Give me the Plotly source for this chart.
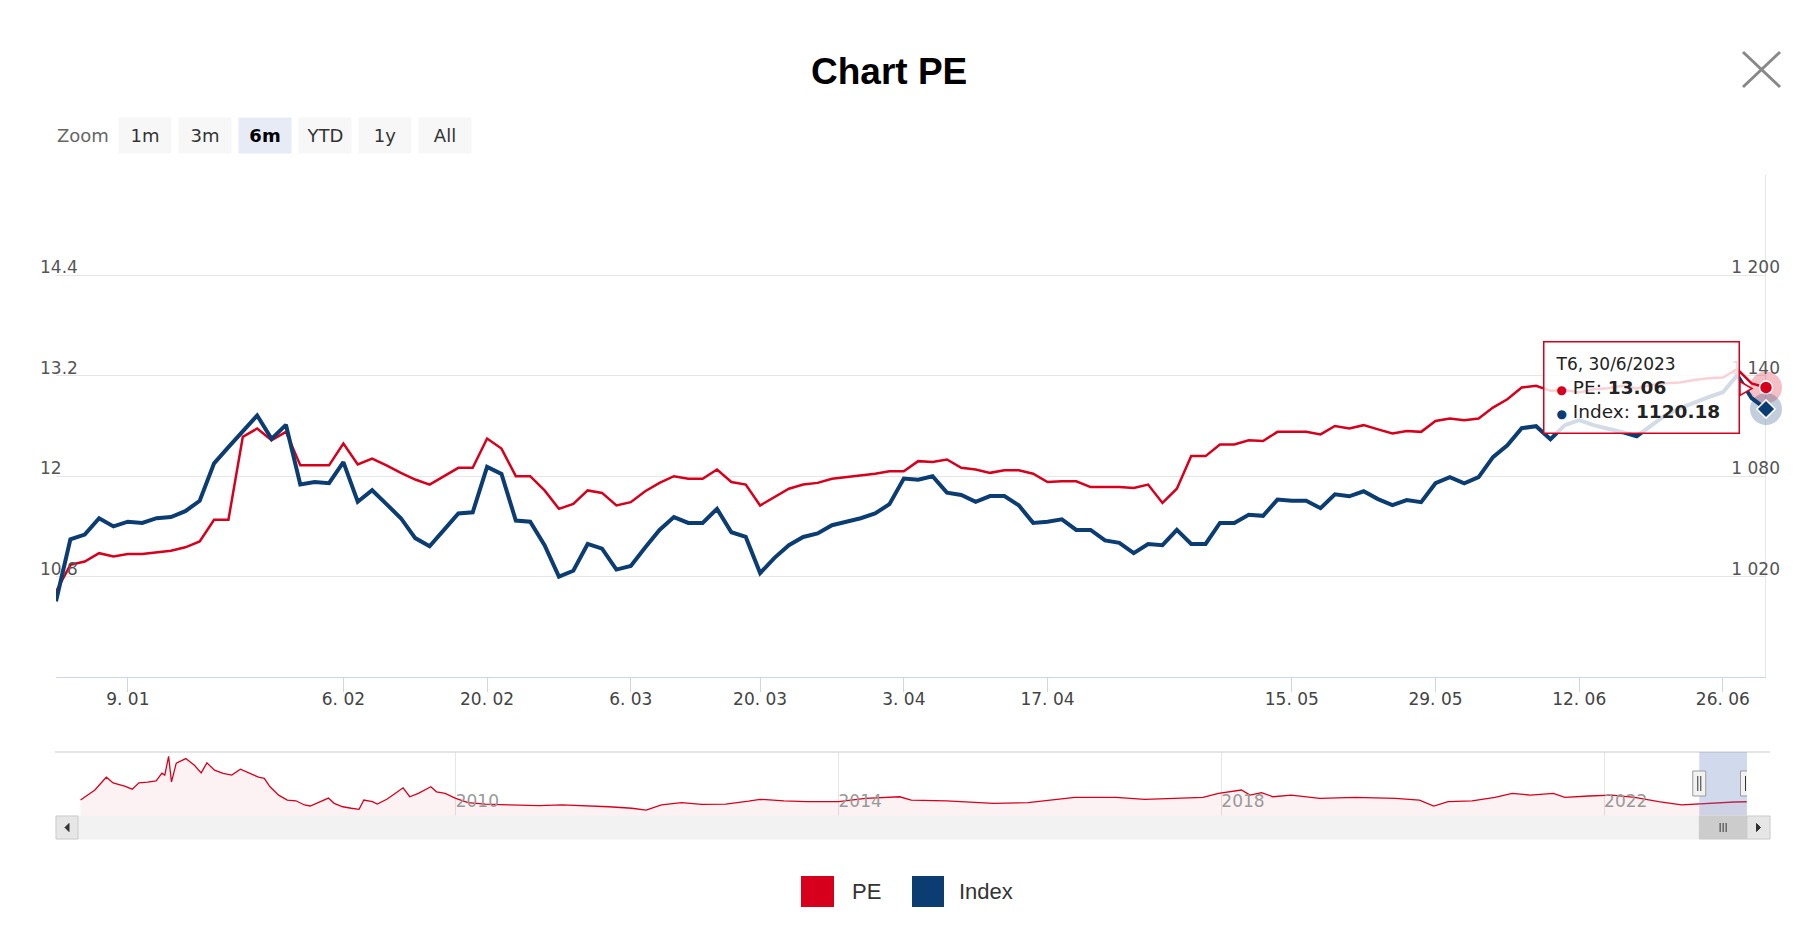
import plotly.graph_objects as go
import pandas as pd

# ---------------- data ----------------
closed_days = ['2023-01-02', '2023-01-20', '2023-01-23', '2023-01-24', '2023-01-25',
               '2023-01-26', '2023-03-13', '2023-05-01', '2023-05-02', '2023-05-03',
               '2023-06-28']
dates = [d for d in pd.bdate_range('2022-12-30', '2023-06-30')
         if d.strftime('%Y-%m-%d') not in closed_days]
date_strs = [d.strftime('%Y-%m-%d') for d in dates]

pe = [10.62, 10.94, 10.98, 11.08, 11.04, 11.07, 11.07, 11.09, 11.11, 11.15,
      11.22, 11.48, 11.48, 12.47, 12.57, 12.43, 12.53, 12.13, 12.13, 12.13,
      12.39, 12.14, 12.21, 12.13, 12.04, 11.96, 11.90, 12.00, 12.10, 12.10,
      12.45, 12.33, 12.00, 12.00, 11.83, 11.61, 11.67, 11.83, 11.80, 11.65,
      11.69, 11.82, 11.92, 12.00, 11.97, 11.97, 12.08, 11.93, 11.90, 11.65,
      11.75, 11.85, 11.90, 11.92, 11.97, 11.99, 12.01, 12.03, 12.06, 12.06,
      12.18, 12.17, 12.20, 12.10, 12.08, 12.04, 12.07, 12.07, 12.03, 11.93,
      11.94, 11.94, 11.87, 11.87, 11.87, 11.86, 11.90, 11.68, 11.85, 12.24,
      12.24, 12.38, 12.38, 12.43, 12.42, 12.53, 12.53, 12.53, 12.50, 12.60,
      12.57, 12.61, 12.56, 12.51, 12.54, 12.53, 12.66, 12.69, 12.67, 12.69,
      12.82, 12.92, 13.06, 13.08, 13.02, 13.03, 13.00, 13.04, 13.05, 13.08,
      13.05, 13.09, 13.11, 13.12, 13.15, 13.17, 13.18, 13.28, 13.11, 13.06]

index_vals = [1005.3, 1042.3, 1045.1, 1054.9, 1050.0, 1052.8, 1052.1, 1054.9, 1055.6, 1059.1,
              1065.3, 1087.7, 1097.4, 1107.2, 1116.3, 1102.3, 1110.7, 1075.1, 1076.5, 1075.8,
              1088.4, 1064.7, 1071.6, 1063.3, 1054.9, 1043.0, 1038.1, 1047.9, 1057.7, 1058.4,
              1085.6, 1081.4, 1053.5, 1052.8, 1038.8, 1020.0, 1023.5, 1039.5, 1036.7, 1024.2,
              1026.3, 1037.4, 1047.9, 1055.6, 1052.1, 1052.1, 1060.5, 1046.5, 1043.7, 1022.1,
              1031.2, 1038.8, 1043.7, 1045.8, 1050.7, 1052.8, 1054.9, 1057.7, 1063.3, 1078.6,
              1077.9, 1080.0, 1070.2, 1068.8, 1064.7, 1068.1, 1068.1, 1062.6, 1052.1, 1052.8,
              1054.2, 1047.9, 1047.9, 1041.6, 1040.2, 1034.0, 1039.5, 1038.8, 1047.9, 1039.5,
              1039.5, 1052.1, 1052.1, 1057.0, 1056.3, 1066.0, 1065.3, 1065.3, 1060.9, 1069.2,
              1068.0, 1071.0, 1066.3, 1062.7, 1065.7, 1064.5, 1075.8, 1079.4, 1075.8, 1079.4,
              1091.4, 1098.5, 1108.7, 1109.9, 1102.1, 1110.5, 1113.5, 1110.5, 1108.7, 1106.3,
              1103.9, 1110.5, 1116.5, 1120.6, 1124.2, 1127.2, 1130.2, 1140.4, 1126.6, 1120.18]

tick_dates = ['2023-01-09', '2023-02-06', '2023-02-20', '2023-03-06', '2023-03-20',
              '2023-04-03', '2023-04-17', '2023-05-15', '2023-05-29', '2023-06-12',
              '2023-06-26']

pe_ticks = [9.6, 10.8, 12.0, 13.2, 14.4, 15.6]
pe_ticktext = ['', '10.8', '12', '13.2', '14.4', '']
idx_ticks = [960, 1020, 1080, 1140, 1200, 1260]
idx_ticktext = ['', '1 020', '1 080', '1 140', '1 200', '']

# navigator: long PE history (decimal year, PE)
nav_year = [2006.08, 2006.23, 2006.32, 2006.35, 2006.42, 2006.54, 2006.62, 2006.69, 2006.78, 2006.87,
            2006.93, 2006.96, 2007.00, 2007.03, 2007.08, 2007.18, 2007.27, 2007.34, 2007.40, 2007.48,
            2007.57, 2007.66, 2007.75, 2007.85, 2007.94, 2008.00, 2008.06, 2008.15, 2008.24, 2008.33,
            2008.42, 2008.48, 2008.58, 2008.67, 2008.73, 2008.82, 2008.91, 2008.99, 2009.04, 2009.13,
            2009.18, 2009.28, 2009.37, 2009.45, 2009.52, 2009.61, 2009.74, 2009.80, 2009.89, 2010.00,
            2010.13, 2010.31, 2010.56, 2010.87, 2011.11, 2011.35, 2011.60, 2011.84, 2011.99, 2012.15,
            2012.36, 2012.57, 2012.82, 2013.06, 2013.18, 2013.43, 2013.67, 2014.00, 2014.28, 2014.64,
            2014.76, 2015.13, 2015.62, 2015.98, 2016.47, 2016.90, 2017.20, 2017.51, 2017.81, 2017.97,
            2018.09, 2018.21, 2018.30, 2018.42, 2018.54, 2018.73, 2019.03, 2019.40, 2019.82, 2020.07,
            2020.22, 2020.37, 2020.62, 2020.86, 2021.04, 2021.23, 2021.47, 2021.59, 2021.84, 2022.08,
            2022.32, 2022.57, 2022.81, 2022.96, 2023.11, 2023.36, 2023.49]
nav_pe = [14.2, 20.9, 27.5, 29.5, 25.7, 23.5, 21.5, 25.7, 26.2, 27.1,
          32.2, 30.9, 43.5, 26.4, 38.9, 42.0, 37.5, 32.4, 39.1, 34.2,
          32.0, 30.9, 34.9, 32.2, 29.5, 28.7, 23.1, 17.5, 14.2, 13.7,
          10.9, 10.2, 13.1, 15.5, 12.0, 9.7, 8.7, 8.0, 14.2, 13.1,
          11.5, 14.7, 18.7, 22.4, 16.4, 18.7, 23.1, 19.7, 18.7, 15.3,
          12.4, 11.5, 10.9, 10.4, 10.9, 10.4, 9.7, 8.7, 7.5, 10.9,
          12.4, 11.3, 11.5, 13.5, 14.7, 13.7, 13.1, 13.1, 15.3, 16.4,
          14.2, 13.7, 12.0, 12.4, 16.0, 16.0, 14.7, 15.3, 16.0, 18.7,
          19.7, 20.9, 17.5, 19.1, 16.4, 17.5, 15.3, 16.0, 15.3, 14.2,
          10.2, 13.1, 13.7, 16.0, 18.7, 17.5, 18.7, 16.0, 16.9, 17.5,
          16.0, 13.1, 10.9, 11.5, 12.4, 12.9, 13.06]
nav_ticks = [2010, 2014, 2018, 2022]

# ---------------- layout helpers (page pixel coordinates) ----------------
OFF = 8                       # default body margin of the page
W, H = 1820 - 2 * OFF, 938 - 2 * OFF
PLOT_L, PLOT_R, PLOT_T, PAPER_B = 56, 1766, 175, 842   # page px
ML, MT = PLOT_L - OFF, PLOT_T - OFF
MR = W - (PLOT_R - OFF)
MB = H - (PAPER_B - OFF)
PW, PH = W - ML - MR, H - MT - MB


def px(xp):
    return (xp - PLOT_L) / PW


def py(yp):
    return (PAPER_B - yp) / PH


RED = '#d7001c'
BLUE = '#0b3d73'
FONT = 'DejaVu Sans'

x = list(range(len(dates)))
last = len(dates) - 1
tickvals = [date_strs.index(t) for t in tick_dates]
ticktext = [f"{pd.Timestamp(t).day}. {pd.Timestamp(t).month:02d}" for t in tick_dates]


def dec_year(d):
    return d.year + (d.dayofyear - 1) / 365.0


sel_start = dec_year(dates[0])
sel_end = dec_year(dates[-1])
nav_left = sel_end - (1747 - PLOT_L) / 95.7

fig = go.Figure()
fig.add_trace(go.Scatter(x=x, y=pe, mode='lines', line=dict(color=RED, width=2.5),
                         name='PE', xaxis='x', yaxis='y', hoverinfo='skip'))
fig.add_trace(go.Scatter(x=x, y=index_vals, mode='lines', line=dict(color=BLUE, width=4),
                         name='Index', xaxis='x', yaxis='y2', hoverinfo='skip'))
# hover halos + markers on the last point
fig.add_trace(go.Scatter(x=[last], y=[pe[-1]], mode='markers', yaxis='y', cliponaxis=False,
                         marker=dict(size=32, color='rgba(215,0,28,0.25)'), hoverinfo='skip'))
fig.add_trace(go.Scatter(x=[last], y=[index_vals[-1]], mode='markers', yaxis='y2', cliponaxis=False,
                         marker=dict(size=32, color='rgba(11,61,115,0.25)'), hoverinfo='skip'))
fig.add_trace(go.Scatter(x=[last], y=[pe[-1]], mode='markers', yaxis='y', cliponaxis=False,
                         marker=dict(size=13, color=RED, line=dict(color='white', width=1.5)),
                         hoverinfo='skip'))
fig.add_trace(go.Scatter(x=[last], y=[index_vals[-1]], mode='markers', yaxis='y2', cliponaxis=False,
                         marker=dict(size=14, symbol='diamond', color=BLUE,
                                     line=dict(color='white', width=1.5)), hoverinfo='skip'))
# navigator
fig.add_trace(go.Scatter(x=nav_year, y=nav_pe, mode='lines', xaxis='x2', yaxis='y3',
                         line=dict(color=RED, width=1.3), fill='tozeroy',
                         fillcolor='rgba(215,0,28,0.05)', hoverinfo='skip'))

shapes = []
# crosshair at hovered point
shapes.append(dict(type='line', xref='x', yref='y domain', x0=last, x1=last, y0=0, y1=1,
                   line=dict(color='#cccccc', width=1), layer='below'))
# navigator outline (top)
shapes.append(dict(type='line', xref='paper', yref='paper', x0=px(55), x1=px(1770),
                   y0=py(752), y1=py(752), line=dict(color='#cccccc', width=1)))
# navigator mask
shapes.append(dict(type='rect', xref='x2', yref='y3 domain', x0=sel_start, x1=sel_end, y0=0, y1=1,
                   fillcolor='rgba(102,133,194,0.3)', line=dict(width=0), layer='above'))
# handles
for xa in (sel_start, sel_end):
    shapes.append(dict(type='rect', xref='x2', xsizemode='pixel', xanchor=xa, x0=-6.5, x1=6.5,
                       yref='paper', y0=py(796), y1=py(771),
                       fillcolor='#f2f2f2', line=dict(color='#999999', width=1)))
    for dx in (-1.5, 1.5):
        shapes.append(dict(type='line', xref='x2', xsizemode='pixel', xanchor=xa, x0=dx, x1=dx,
                           yref='paper', y0=py(791), y1=py(776),
                           line=dict(color='#333333', width=1)))
# scrollbar
shapes.append(dict(type='rect', xref='paper', yref='paper', x0=px(56), x1=px(1770),
                   y0=py(839), y1=py(816), fillcolor='#f2f2f2', line=dict(color='#f2f2f2', width=1)))
shapes.append(dict(type='rect', xref='x2', yref='paper', x0=sel_start, x1=sel_end,
                   y0=py(839), y1=py(816), fillcolor='#cccccc', line=dict(color='#cccccc', width=1)))
for dx in (-3, 0, 3):
    shapes.append(dict(type='line', xref='x2', xsizemode='pixel', xanchor=(sel_start + sel_end) / 2,
                       x0=dx, x1=dx, yref='paper', y0=py(832), y1=py(823),
                       line=dict(color='#333333', width=1)))
for (a, b, arrow) in ((56, 78, 'M 2,-4 L -2,0 L 2,4 Z'), (1747, 1770, 'M -2,-4 L 2,0 L -2,4 Z')):
    shapes.append(dict(type='rect', xref='paper', yref='paper', x0=px(a), x1=px(b),
                       y0=py(839), y1=py(816), fillcolor='#e6e6e6', line=dict(color='#cccccc', width=1)))
    shapes.append(dict(type='path', xref='paper', xsizemode='pixel', xanchor=px((a + b) / 2),
                       yref='paper', ysizemode='pixel', yanchor=py(827.5), path=arrow,
                       fillcolor='#333333', line=dict(color='#333333', width=1)))
# close button (X)
shapes.append(dict(type='line', xref='paper', yref='paper', x0=px(1743), y0=py(52), x1=px(1780), y1=py(87),
                   line=dict(color='#888888', width=3)))
shapes.append(dict(type='line', xref='paper', yref='paper', x0=px(1743), y0=py(87), x1=px(1780), y1=py(52),
                   line=dict(color='#888888', width=3)))
# legend squares
shapes.append(dict(type='rect', xref='paper', yref='paper', x0=px(801), x1=px(834), y0=py(907), y1=py(876),
                   fillcolor=RED, line=dict(width=0)))
shapes.append(dict(type='rect', xref='paper', yref='paper', x0=px(912), x1=px(944), y0=py(907), y1=py(876),
                   fillcolor=BLUE, line=dict(width=0)))
# tooltip callout pointer
shapes.append(dict(type='path', xref='x', xsizemode='pixel', xanchor=last, yref='y', ysizemode='pixel',
                   yanchor=pe[-1], path='M -26,6 L -14,-1 L -26,-8 Z',
                   fillcolor='white', line=dict(color=RED, width=1.5), layer='above'))

annotations = []
annotations.append(dict(text='<b>Chart PE</b>', xref='paper', yref='paper', x=px(889), y=py(72),
                        showarrow=False, xanchor='center', yanchor='middle',
                        font=dict(family='Liberation Sans', size=37, color='#000000')))
annotations.append(dict(text='Zoom', xref='paper', yref='paper', x=px(55), y=py(135), showarrow=False,
                        xanchor='left', yanchor='middle', font=dict(family=FONT, size=18, color='#666666')))
buttons = ['1m', '3m', '6m', 'YTD', '1y', 'All']
selected = '6m'
for i, b in enumerate(buttons):
    cx = 145 + 60 * i
    sel = (b == selected)
    annotations.append(dict(text=f'<b>{b}</b>' if sel else b, xref='paper', yref='paper',
                            x=px(cx), y=py(135), showarrow=False, xanchor='center', yanchor='middle',
                            width=52, height=35, borderpad=0,
                            bgcolor='#e6ebf5' if sel else '#f7f7f7',
                            font=dict(family=FONT, size=18, color='#000000' if sel else '#333333')))
# legend text
annotations.append(dict(text='PE', xref='paper', yref='paper', x=px(850), y=py(891), showarrow=False,
                        xanchor='left', yanchor='middle', font=dict(family='Liberation Sans', size=22, color='#333333')))
annotations.append(dict(text='Index', xref='paper', yref='paper', x=px(957), y=py(891), showarrow=False,
                        xanchor='left', yanchor='middle', font=dict(family='Liberation Sans', size=22, color='#333333')))
# tooltip
d_last = dates[-1]
header = f"T{d_last.weekday() + 2}, {d_last.day}/{d_last.month}/{d_last.year}"
tip = (f"<span style='font-size:17px'>{header}</span><br>"
       f"<span style='color:{RED};font-size:12px'>●</span> PE: <b>{pe[-1]:.2f}</b><br>"
       f"<span style='color:{BLUE};font-size:12px'>●</span> Index: <b>{index_vals[-1]:.2f}</b>")
annotations.append(dict(text=tip, xref='x', yref='y', x=last, y=pe[-1], xshift=-26,
                        showarrow=False, xanchor='right', yanchor='middle', align='left',
                        bgcolor='rgba(255,255,255,0.82)', bordercolor=RED, borderwidth=1.5,
                        borderpad=11, width=172,
                        font=dict(family=FONT, size=18.5, color='#222222')))

fig.update_layout(
    width=W, height=H,
    margin=dict(l=ML, r=MR, t=MT, b=MB),
    paper_bgcolor='white', plot_bgcolor='white',
    showlegend=False,
    font=dict(family=FONT),
    xaxis=dict(domain=[0, 1], range=[0, last], tickvals=tickvals, ticktext=ticktext,
               ticks='outside', ticklen=14, tickcolor='#ccd6eb', showline=True, linecolor='#ccd6eb',
               showgrid=False, zeroline=False, tickfont=dict(family=FONT, size=17, color='#444444'),
               ticklabelstandoff=-7, anchor='y'),
    yaxis=dict(domain=[py(677), 1], range=[9.6 - 1e-6, 15.6 + 1e-6], tickvals=pe_ticks,
               ticktext=pe_ticktext, gridcolor='#e6e6e6', showline=False, zeroline=False,
               ticklabelposition='inside', ticklabelstandoff=-19, ticklabelshift=-8,
               tickfont=dict(family=FONT, size=17, color='#555555'), anchor='x'),
    yaxis2=dict(overlaying='y', side='right', range=[960 - 1e-4, 1260 + 1e-4], tickvals=idx_ticks,
                ticktext=idx_ticktext, showgrid=False, showline=False, zeroline=False,
                ticklabelposition='inside', ticklabelstandoff=-17, ticklabelshift=-8,
                tickfont=dict(family=FONT, size=17, color='#555555'), anchor='x'),
    xaxis2=dict(domain=[0, px(1747)], range=[nav_left, sel_end], anchor='y3',
                tickvals=nav_ticks, ticks='', showgrid=True, gridcolor='#e6e6e6', zeroline=False,
                showline=False, ticklabelposition='inside right',
                tickfont=dict(family=FONT, size=17, color='#999999')),
    yaxis3=dict(domain=[py(816), py(752)], range=[3.5, 46.4], visible=False, anchor='x2'),
    shapes=shapes,
    annotations=annotations,
)

fig.write_html('out.html')
